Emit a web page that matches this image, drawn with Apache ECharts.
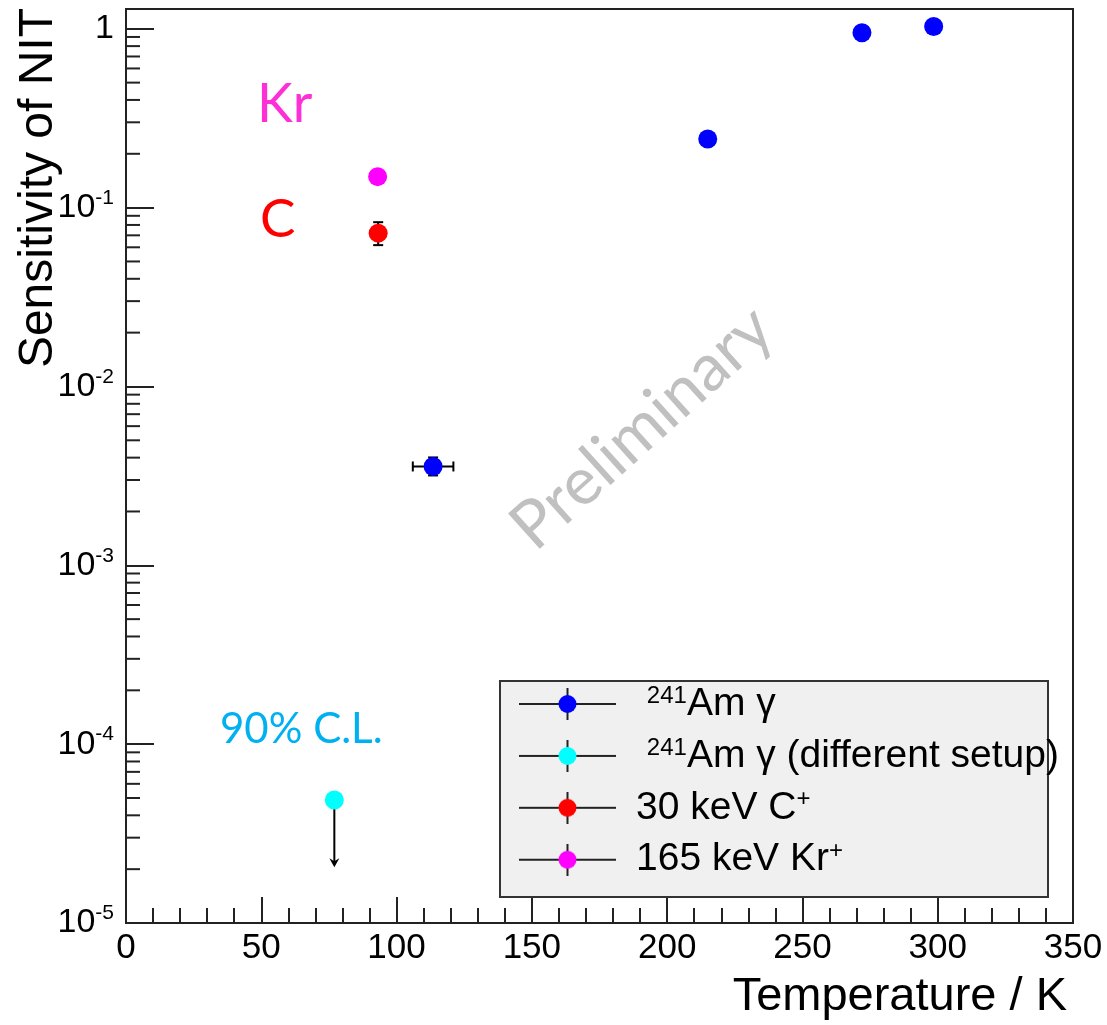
<!DOCTYPE html>
<html>
<head>
<meta charset="utf-8">
<script src="https://cdn.jsdelivr.net/npm/echarts@6/dist/echarts.min.js"></script>
<style>
html,body{margin:0;padding:0;background:#fff;}
#main{width:1107px;height:1025px;}
</style>
</head>
<body>
<div id="main"></div>
<script>
// 241Am gamma
var amTemp = [113.5, 215, 272, 298.5];
var amSens = [0.00357, 0.242, 0.95, 1.03];
var amTempErr = [7.5, 0, 0, 0];
var amSensLow = [0.00318, null, null, null];
var amSensHigh = [0.00401, null, null, null];
// 241Am gamma, different setup (90% C.L. upper limit)
var amDiffTemp = [77];
var amDiffSens = [4.87e-5];
var amDiffArrowTo = [2.05e-5];
// 30 keV C+
var cTemp = [93.2];
var cSens = [0.072];
var cSensLow = [0.0617];
var cSensHigh = [0.0829];
// 165 keV Kr+
var krTemp = [93];
var krSens = [0.149];

var seriesNames = ['241Am γ', '241Am γ (different setup)', '30 keV C+', '165 keV Kr+'];
var seriesColors = ['#0000ff', '#00ffff', '#ff0000', '#ff00ff'];
var legendLabels = [
    '{t| }{s|241}{t|Am γ}',
    '{t| }{s|241}{t|Am γ (different setup)}',
    '{t|30 keV C}{s|+}',
    '{t|165 keV Kr}{s|+}'
];
var yDecades = [-5, -4, -3, -2, -1];

var chart = echarts.init(document.getElementById('main'));

function points(xs, ys) {
    var out = [];
    for (var i = 0; i < xs.length; i++) out.push([xs[i], ys[i]]);
    return out;
}

// [x, y, xlo, xhi, ylo, yhi]
function errItems(xs, ys, xerr, ylo, yhi) {
    var out = [];
    for (var i = 0; i < xs.length; i++) {
        var e = xerr ? xerr[i] : 0;
        out.push([xs[i], ys[i], xs[i] - e, xs[i] + e,
            (ylo && ylo[i] != null) ? ylo[i] : ys[i],
            (yhi && yhi[i] != null) ? yhi[i] : ys[i]]);
    }
    return out;
}

var errData = errItems(amTemp, amSens, amTempErr, amSensLow, amSensHigh)
    .concat(errItems(cTemp, cSens, null, cSensLow, cSensHigh));

var minorVals = [];
yDecades.forEach(function (e) {
    for (var k = 2; k <= 9; k++) minorVals.push([0, k * Math.pow(10, e)]);
});

function legendIcon(color) {
    var cv = document.createElement('canvas');
    cv.width = 112; cv.height = 32;
    var g = cv.getContext('2d');
    g.strokeStyle = '#222'; g.lineWidth = 2;
    g.beginPath();
    g.moveTo(0, 16); g.lineTo(97, 16);
    g.moveTo(48.5, 0); g.lineTo(48.5, 32);
    g.stroke();
    g.fillStyle = color;
    g.beginPath(); g.arc(48.5, 16, 9, 0, Math.PI * 2); g.fill();
    return 'image://' + cv.toDataURL();
}

var line = {stroke: '#000', lineWidth: 2};

function renderErr(params, api) {
    var x = api.value(0), y = api.value(1);
    var kids = [];
    var xlo = api.value(2), xhi = api.value(3), ylo = api.value(4), yhi = api.value(5);
    if (xhi > xlo) {
        var a = api.coord([xlo, y]), b = api.coord([xhi, y]);
        kids.push({type: 'line', shape: {x1: a[0], y1: a[1], x2: b[0], y2: b[1]}, style: line});
        kids.push({type: 'line', shape: {x1: a[0], y1: a[1] - 5, x2: a[0], y2: a[1] + 5}, style: line});
        kids.push({type: 'line', shape: {x1: b[0], y1: b[1] - 5, x2: b[0], y2: b[1] + 5}, style: line});
    }
    if (yhi > ylo) {
        var c = api.coord([x, ylo]), d = api.coord([x, yhi]);
        kids.push({type: 'line', shape: {x1: c[0], y1: c[1], x2: d[0], y2: d[1]}, style: line});
        kids.push({type: 'line', shape: {x1: c[0] - 5, y1: c[1], x2: c[0] + 5, y2: c[1]}, style: line});
        kids.push({type: 'line', shape: {x1: d[0] - 5, y1: d[1], x2: d[0] + 5, y2: d[1]}, style: line});
    }
    return {type: 'group', children: kids};
}

function renderArrow(params, api) {
    var p = api.coord([api.value(0), api.value(1)]);
    var q = api.coord([api.value(0), api.value(2)]);
    return {type: 'group', children: [
        {type: 'line', shape: {x1: p[0], y1: p[1], x2: q[0], y2: q[1] - 4}, style: line},
        {type: 'polygon', shape: {points: [[q[0] - 5, q[1] - 9], [q[0], q[1] - 6], [q[0] + 5, q[1] - 9], [q[0], q[1]]]},
            style: {fill: '#000'}}
    ]};
}

function renderMinor(params, api) {
    var p = api.coord([api.value(0), api.value(1)]);
    return {type: 'line', shape: {x1: p[0], y1: p[1], x2: p[0] + 14, y2: p[1]},
        style: {stroke: '#222', lineWidth: 2}};
}

var option = {
    animation: false,
    backgroundColor: '#fff',
    grid: {left: 126, right: 34, top: 9, bottom: 102, show: true, borderColor: '#222', borderWidth: 2},
    xAxis: {
        type: 'value', min: 0, max: 350, interval: 50,
        axisLine: {lineStyle: {color: '#222', width: 2}},
        axisTick: {inside: true, length: 26, lineStyle: {color: '#222', width: 2}},
        minorTick: {show: true, splitNumber: 5, length: 15, lineStyle: {color: '#222', width: 2}},
        splitLine: {show: false},
        axisLabel: {color: '#000', fontFamily: 'Liberation Sans', fontSize: 35, margin: 8}
    },
    yAxis: {
        type: 'log', logBase: 10, min: 1e-5, max: 1.29,
        axisLine: {lineStyle: {color: '#222', width: 2}},
        axisTick: {inside: true, length: 28, lineStyle: {color: '#222', width: 2}},
        splitLine: {show: false},
        axisLabel: {
            margin: 12,
            formatter: function (v) {
                var l = Math.log10(v), e = Math.round(l);
                if (Math.abs(l - e) > 1e-6) return '';
                if (e === 0) return '{b|1}';
                return '{b|10}{s|' + e + '}';
            },
            rich: {
                b: {color: '#000', fontFamily: 'Liberation Sans', fontSize: 34, lineHeight: 40},
                s: {color: '#000', fontFamily: 'Liberation Sans', fontSize: 21, lineHeight: 26, verticalAlign: 'top'}
            }
        }
    },
    legend: {
        left: 500, top: 681, padding: [3, 0, 0, 19],
        orient: 'vertical', itemWidth: 112, itemHeight: 32, itemGap: 12.4,
        selectedMode: false, z: 6,
        data: seriesNames.map(function (n, i) { return {name: n, icon: legendIcon(seriesColors[i])}; }),
        formatter: function (name) { return legendLabels[seriesNames.indexOf(name)]; },
        textStyle: {
            color: '#000',
            rich: {
                t: {color: '#000', fontFamily: 'Liberation Sans', fontSize: 39, lineHeight: 40},
                s: {color: '#000', fontFamily: 'Liberation Sans', fontSize: 24, lineHeight: 18, verticalAlign: 'top'}
            }
        }
    },
    graphic: [
        {type: 'rect', z: 1, shape: {x: 500, y: 681, width: 548, height: 216},
            style: {fill: '#f0f0f0', stroke: '#333', lineWidth: 2}},
        {type: 'text', x: 39, y: 8, rotation: Math.PI / 2,
            style: {text: 'Sensitivity of NIT', fill: '#000', font: '48px "Liberation Sans"', align: 'right', verticalAlign: 'middle'}},
        {type: 'text', x: 1067, y: 997,
            style: {text: 'Temperature / K', fill: '#000', font: '47px "Liberation Sans"', align: 'right', verticalAlign: 'middle'}},
        {type: 'text', x: 642, y: 428, rotation: 42 * Math.PI / 180,
            style: {text: 'Preliminary', fill: '#c0c0c0', font: '66px Lato', align: 'center', verticalAlign: 'middle'}},
        {type: 'text', x: 257, y: 105,
            style: {text: 'Kr', fill: '#ff2fd8', font: '54px Lato', align: 'left', verticalAlign: 'middle'}},
        {type: 'text', x: 260, y: 220,
            style: {text: 'C', fill: '#ff0000', font: '53px Lato', align: 'left', verticalAlign: 'middle'}},
        {type: 'text', x: 220, y: 729,
            style: {text: '90% C.L.', fill: '#00b0f0', font: '42px Lato', align: 'left', verticalAlign: 'middle'}}
    ],
    series: [
        {name: 'minor', type: 'custom', silent: true, z: 3, renderItem: renderMinor, data: minorVals},
        {name: 'err', type: 'custom', silent: true, z: 3, renderItem: renderErr, data: errData},
        {name: 'limit', type: 'custom', silent: true, z: 3, renderItem: renderArrow,
            data: [[amDiffTemp[0], amDiffSens[0], amDiffArrowTo[0]]]},
        {name: seriesNames[0], type: 'scatter', z: 4, symbolSize: 19, itemStyle: {color: seriesColors[0], opacity: 1},
            data: points(amTemp, amSens)},
        {name: seriesNames[1], type: 'scatter', z: 4, symbolSize: 19, itemStyle: {color: seriesColors[1], opacity: 1},
            data: points(amDiffTemp, amDiffSens)},
        {name: seriesNames[2], type: 'scatter', z: 4, symbolSize: 19, itemStyle: {color: seriesColors[2], opacity: 1},
            data: points(cTemp, cSens)},
        {name: seriesNames[3], type: 'scatter', z: 4, symbolSize: 19, itemStyle: {color: seriesColors[3], opacity: 1},
            data: points(krTemp, krSens)}
    ]
};

chart.setOption(option);
</script>
</body>
</html>
